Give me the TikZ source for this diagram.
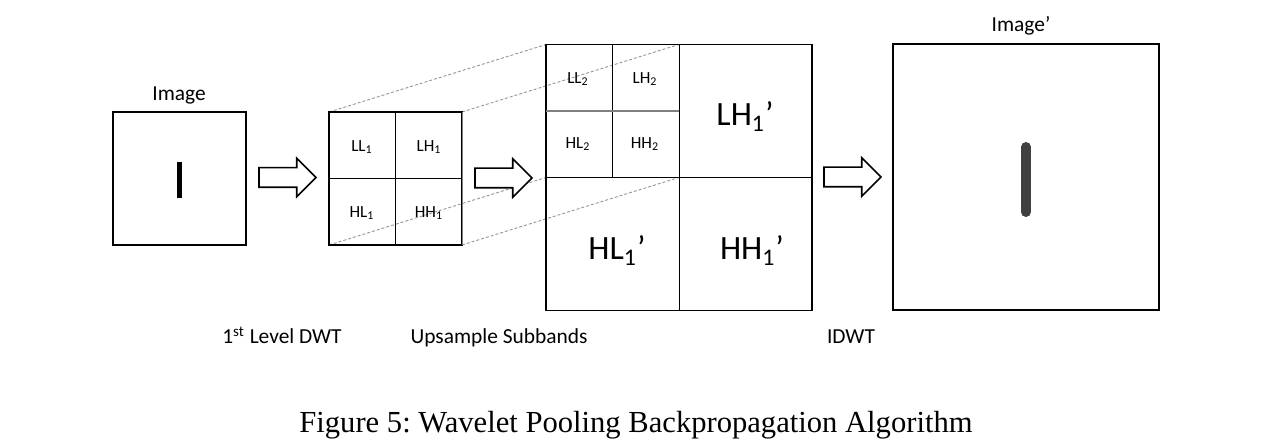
\documentclass[tikz,border=0pt]{standalone}
\usepackage{fontspec}
\setmainfont{Liberation Serif}
\newfontfamily\calib{Carlito}
\usetikzlibrary{shapes.arrows,backgrounds}
\definecolor{wpDash}{RGB}{150,150,150}
\definecolor{wpLine}{RGB}{128,128,128}
\definecolor{wpBar}{RGB}{64,64,64}
\frenchspacing

\begin{document}
\begin{tikzpicture}[
  x=0.5pt, y=-0.5pt,
  font=\calib,
  box/.style={draw=black, line width=0.6pt, minimum size=#1, inner sep=0pt, outer sep=0pt},
  blockarrow/.style={single arrow, draw=black, line width=0.8pt, fill=white, minimum height=28.5pt, single arrow head extend=4.75pt, inner sep=4.5pt, outer sep=0pt, anchor=tip},
  zoomline/.style={draw=wpDash, line width=0.45pt, dash pattern=on 1.5pt off 1pt},
  lbl/.style={font=\calib\fontsize{10.7}{12}\selectfont, anchor=base},
  band/.style={font=\calib\fontsize{8.5}{10}\selectfont},
  bigband/.style={font=\calib\fontsize{17}{20}\selectfont, anchor=base}
]
\useasboundingbox (0,0) rectangle (1276,442);

% input image
\node[box=66.5pt] (img) at (179.5,178.5) {};
\node[lbl] (imglbl) at (179,101) {Image};
\draw[line width=2.5pt] (179,162) -- (179,198);

\node[blockarrow] (ar1) at (316,177.5) {};

% first level DWT
\node[box=66.5pt] (lvl1) at (395.5,178.5) {};
\draw (lvl1.north) -- (lvl1.south);
\draw (lvl1.west) -- (lvl1.east);
\draw[wpLine] (lvl1.north east) -- (lvl1.south east);
\node[band] (ll1) at (362,147) {LL\textsubscript{1}};
\node[band] (lh1) at (429,147) {LH\textsubscript{1}};
\node[band] (hl1) at (362,213) {HL\textsubscript{1}};
\node[band] (hh1) at (429,213) {HH\textsubscript{1}};

\node[blockarrow] (ar2) at (532,178) {};

% upsampled subbands
\node[box=133pt] (up) at (679,177.5) {};
\draw (up.north) -- (up.south);
\draw (up.west) -- (up.east);
\node[box=66.5pt, draw=none] (quad) at (612.5,111) {};
\draw (quad.north) -- (quad.south);
\draw[wpLine, line width=0.8pt] (quad.west) -- (quad.east);
\node[band] (ll2) at (578,79) {LL\textsubscript{2}};
\node[band] (lh2) at (645,79) {LH\textsubscript{2}};
\node[band] (hl2) at (578,144) {HL\textsubscript{2}};
\node[band] (hh2) at (645,144) {HH\textsubscript{2}};
\node[bigband] (lh1p) at (745,126) {LH\textsubscript{1}’};
\node[bigband] (hl1p) at (617,260) {HL\textsubscript{1}’};
\node[bigband] (hh1p) at (752,260) {HH\textsubscript{1}’};

\begin{scope}[on background layer]
  \draw[zoomline] (lvl1.north west) -- (quad.north west);
  \draw[zoomline] (lvl1.north east) -- (quad.north east);
  \draw[zoomline] (lvl1.south west) -- (quad.south west);
  \draw[zoomline] (lvl1.south east) -- (quad.south east);
\end{scope}

\node[blockarrow] (ar3) at (881,177) {};

% reconstructed image
\node[box=133pt] (rec) at (1026,177) {};
\node[lbl] (reclbl) at (1021,32) {Image’};
\draw[wpBar, line width=5pt, line cap=round] (1026,147) -- (1026,212);

% step labels
\node[lbl] (st1) at (282,344) {1\textsuperscript{st} Level DWT};
\node[lbl] (st2) at (499,344) {Upsample Subbands};
\node[lbl] (st3) at (851,344) {IDWT};

\node[font=\rmfamily\fontsize{15.3}{18}\selectfont, anchor=base] (caption) at (636,433) {Figure 5: Wavelet Pooling Backpropagation Algorithm};
\end{tikzpicture}
\end{document}
